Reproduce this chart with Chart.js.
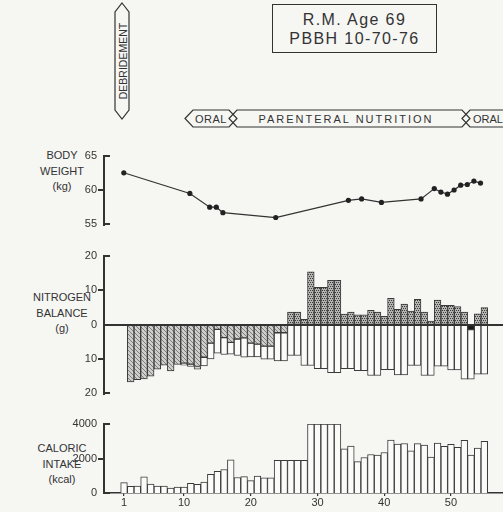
<!DOCTYPE html>
<html>
<head>
<meta charset="utf-8">
<script src="https://cdn.jsdelivr.net/npm/chart.js@4.4.1/dist/chart.umd.min.js"></script>
<style>
    body { margin: 0; background: #f6f6f3; }
    #wrap { position: relative; width: 503px; height: 512px; overflow: hidden; font-family: 'Liberation Sans', Arial, sans-serif; color: #333; }
    canvas { position: absolute; left: 0; }
    .axis-label { position: absolute; left: 20px; width: 84px; text-align: center; font-size: 11px; line-height: 15.5px; }
    #header { position: absolute; left: 272px; top: 4px; width: 165px; height: 49px; border: 1.5px solid #333; text-align: center; font-size: 16px; line-height: 19px; letter-spacing: 1.4px; padding-top: 5px; box-sizing: border-box; }
</style>
</head>
<body>
<div id="wrap">
    <div id="header">R.M. Age 69<br>PBBH 10-70-76</div>
    <svg width="503" height="140" style="position:absolute;left:0;top:0" font-family="'Liberation Sans', Arial, sans-serif" fill="#333">
        <polygon points="122,3 129,12 129,110 122,119 115,110 115,12" fill="none" stroke="#333" stroke-width="1.2"/>
        <text transform="translate(122.5,61) rotate(-90)" text-anchor="middle" dominant-baseline="central" font-size="10.5">DEBRIDEMENT</text>
        <polygon points="185,118.5 193,110 229,110 237,118.5 229,127 193,127" fill="none" stroke="#333" stroke-width="1.2"/>
        <polygon points="229,118.5 237,110 462,110 470,118.5 462,127 237,127" fill="none" stroke="#333" stroke-width="1.2"/>
        <polygon points="462,118.5 470,110 515,110 515,127 470,127" fill="none" stroke="#333" stroke-width="1.2"/>
        <text x="211" y="119" text-anchor="middle" dominant-baseline="central" font-size="11" letter-spacing="0.5">ORAL</text>
        <text x="346" y="119" text-anchor="middle" dominant-baseline="central" font-size="11" letter-spacing="2">PARENTERAL NUTRITION</text>
        <text x="473" y="119" dominant-baseline="central" font-size="11">ORAL</text>
    </svg>
    <div class="axis-label" style="top:148px">BODY<br>WEIGHT<br>(kg)</div>
    <div class="axis-label" style="top:290px">NITROGEN<br>BALANCE<br>(g)</div>
    <div class="axis-label" style="top:441px">CALORIC<br>INTAKE<br>(kcal)</div>
    <canvas id="weightChart" width="503" height="96" style="top:142px"></canvas>
    <canvas id="nitrogenChart" width="503" height="165" style="top:242px"></canvas>
    <canvas id="calorieChart" width="503" height="102" style="top:410px"></canvas>
</div>
<script>
// day numbers along the bottom
const days = Array.from({ length: 55 }, (_, i) => i + 1);
const dayTicks = [1, 10, 20, 30, 40, 50];

// body weight, only on the days it was measured
const weightDays = [1, 11, 14, 15, 16, 24, 35, 37, 40, 46, 48, 49, 50, 51, 52, 53, 54, 55];
const weightKg = [62.5, 59.5, 57.5, 57.5, 56.7, 56.0, 58.5, 58.7, 58.2, 58.7, 60.2, 59.7, 59.4, 60.0, 60.7, 60.8, 61.3, 61.0];
const weightTicks = [55, 60, 65];

// nitrogen balance (hatched part) and the bottom of each bar (g)
const nitrogenBalance = [
    null, -16.7, -16.0, -15.8, -15.0, -13.0, -11.8, -13.5, -11.6, -11.2,
    -11.5, -12.2, -9.5, -5.4, -1.4, -3.8, -5.2, -4.2, -3.9, -5.4,
    -5.7, -6.3, -6.3, -2.4, -2.4, 3.6, 3.6, 1.5, 15.3, 10.8,
    10.8, 12.8, 12.8, 3.0, 3.6, 2.8, 2.8, 4.1, 3.6, 2.4,
    7.6, 4.4, 5.9, 3.9, 7.3, 3.6, 1.0, 7.1, 5.6, 5.6,
    5.2, 3.6, -1.5, 3.1, 4.9,
];
const nitrogenBottom = [
    null, -16.7, -16.0, -15.8, -15.0, -13.0, -11.8, -13.5, -11.6, -11.8,
    -12.2, -13.0, -12.0, -10.0, -8.3, -8.7, -8.6, -9.0, -9.5, -9.4,
    -9.4, -10.1, -10.1, -10.6, -10.6, -9.0, -9.0, -11.9, -11.9, -12.8,
    -12.8, -14.0, -14.0, -12.8, -12.8, -13.4, -13.4, -14.8, -14.8, -13.1,
    -13.1, -14.6, -14.6, -11.9, -11.9, -14.8, -14.8, -12.1, -12.1, -13.2,
    -13.2, -15.9, -15.9, -14.4, -14.4,
];
const nitrogenTicks = [-20, -10, 0, 10, 20];

// caloric intake (kcal)
const calories = [
    600, 380, 400, 940, 520, 400, 400, 280, 340, 340,
    560, 500, 640, 1080, 1260, 1360, 1920, 900, 950, 720,
    980, 880, 880, 1900, 1900, 1900, 1900, 1900, 4000, 4000,
    4000, 4000, 4000, 2560, 2720, 1820, 2060, 2230, 2200, 2350,
    3070, 2830, 2870, 2440, 2860, 2780, 2080, 2900, 2700, 2820,
    2650, 3050, 2200, 2600, 3000,
];
const calorieTicks = [0, 2000, 4000];

const ink = "#333";
const solidDay = 53;

Chart.defaults.font.family = "'Liberation Sans', Arial, sans-serif";
Chart.defaults.font.size = 11;
Chart.defaults.color = ink;

function makePattern(bg, fg, dots) {
    const c = document.createElement("canvas");
    c.width = 4;
    c.height = 4;
    const g = c.getContext("2d");
    g.fillStyle = bg;
    g.fillRect(0, 0, 4, 4);
    g.fillStyle = fg;
    dots.forEach(function (p) {
        g.fillRect(p[0], p[1], 1, 1);
    });
    return g.createPattern(c, "repeat");
}

const lightHatch = makePattern("#cfcfcc", "#7d7d7b", [[0, 0], [1, 1], [2, 2], [3, 3]]);
const darkHatch = makePattern("#b4b4b2", "#3c3c3c", [[0, 0], [2, 0], [1, 2], [3, 2]]);

function xScale(show) {
    return {
        type: "linear",
        min: -2,
        max: 57.8,
        offset: false,
        display: show,
        afterBuildTicks: function (s) {
            s.ticks = dayTicks.map(function (v) { return { value: v }; });
        },
        afterFit: function (s) { s.height = show ? 19 : 0; },
        border: { display: true, color: ink, width: 1.5 },
        grid: { offset: false, drawOnChartArea: false, tickLength: 3, color: ink, lineWidth: 1.2 },
        ticks: { padding: 0, maxRotation: 0, autoSkip: false, font: { size: 11 } },
    };
}

// tick labels come from Chart.js; the axis line and tick marks are drawn by the plugin below
function yScale(min, max, tickList) {
    return {
        min: min,
        max: max,
        afterFit: function (s) { s.width = 104; },
        afterBuildTicks: function (s) {
            s.ticks = tickList.map(function (v) { return { value: v }; });
        },
        border: { display: false },
        grid: { display: false, drawTicks: false },
        ticks: {
            padding: 7,
            callback: function (v) { return Math.abs(v); },
        },
    };
}

// bracket-style y axis: vertical line, end ticks to the right, inner ticks to the left,
// and a zero line across the plot when the axis crosses zero
const axisBracket = {
    id: "axisBracket",
    afterDraw: function (chart) {
        const y = chart.scales.y;
        const area = chart.chartArea;
        const g = chart.ctx;
        const ax = Math.round(area.left);
        g.save();
        g.fillStyle = ink;
        g.fillRect(ax - 1, Math.round(y.top), 2, Math.round(y.bottom - y.top) + 1);
        y.ticks.forEach(function (t) {
            const py = Math.round(y.getPixelForValue(t.value));
            if (t.value === y.min || t.value === y.max) {
                g.fillRect(ax - 1, py - 1, 7, 2);
            } else if (t.value === 0) {
                g.fillRect(ax - 1, py - 1, area.right - ax + 1, 2);
            } else {
                g.fillRect(ax - 6, py - 1, 6, 2);
            }
        });
        g.restore();
    },
};

const baseOptions = {
    responsive: false,
    animation: false,
    events: [],
    plugins: { legend: { display: false }, tooltip: { enabled: false } },
};

new Chart(document.getElementById("weightChart").getContext("2d"), {
    type: "line",
    data: {
        datasets: [
            {
                data: weightDays.map(function (d, i) { return { x: d, y: weightKg[i] }; }),
                borderColor: ink,
                borderWidth: 1.2,
                pointRadius: 2.6,
                pointBackgroundColor: "#222",
                pointBorderWidth: 0,
                tension: 0,
            },
        ],
    },
    options: Object.assign({}, baseOptions, {
        layout: { padding: { top: 10, bottom: 12 } },
        scales: { x: xScale(false), y: yScale(55, 65, weightTicks) },
    }),
    plugins: [axisBracket],
});

const hatchData = [];
const whiteData = [];
days.forEach(function (d, i) {
    const b = nitrogenBalance[i];
    const out = nitrogenBottom[i];
    if (b === null) return;
    hatchData.push({ x: d, y: [0, b] });
    const top = Math.min(0, b);
    if (out < top) whiteData.push({ x: d, y: [top, out] });
});

new Chart(document.getElementById("nitrogenChart").getContext("2d"), {
    type: "bar",
    data: {
        datasets: [
            {
                data: hatchData,
                backgroundColor: function (c) {
                    if (!c.raw) return lightHatch;
                    if (c.raw.x === solidDay) return "#1c1c1c";
                    return c.raw.y[1] > 0 ? darkHatch : lightHatch;
                },
            },
            {
                data: whiteData,
                backgroundColor: "#fbfbf9",
            },
        ],
    },
    options: Object.assign({}, baseOptions, {
        layout: { padding: { top: 11, bottom: 13 } },
        datasets: {
            bar: {
                grouped: false,
                categoryPercentage: 1,
                barPercentage: 1,
                borderWidth: 1,
                borderColor: "#3a3a3a",
                borderSkipped: false,
            },
        },
        scales: { x: xScale(false), y: yScale(-20, 20, nitrogenTicks) },
    }),
    plugins: [axisBracket],
});

new Chart(document.getElementById("calorieChart").getContext("2d"), {
    type: "bar",
    data: {
        datasets: [
            {
                data: days.map(function (d, i) { return { x: d, y: calories[i] }; }),
                backgroundColor: "#fbfbf9",
                borderColor: "#3a3a3a",
                borderWidth: 1,
                borderSkipped: "start",
                categoryPercentage: 1,
                barPercentage: 1,
            },
        ],
    },
    options: Object.assign({}, baseOptions, {
        layout: { padding: { top: 14 } },
        scales: { x: xScale(true), y: yScale(0, 4000, calorieTicks) },
    }),
    plugins: [axisBracket],
});
</script>
</body>
</html>
